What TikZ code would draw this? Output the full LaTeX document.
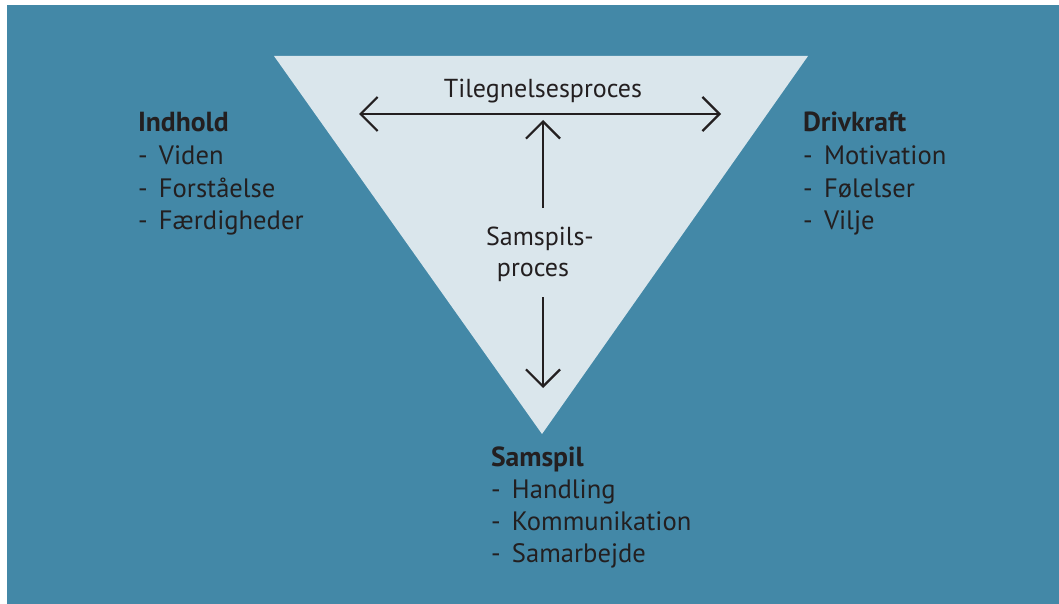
\documentclass[tikz,border=0pt]{standalone}
\usepackage{fontspec}
\setmainfont{PT Sans}
\usetikzlibrary{arrows.meta}
\definecolor{bgblue}{HTML}{4388A7}
\definecolor{trifill}{HTML}{DAE6EC}
\definecolor{ink}{HTML}{231F20}
\tikzset{
  txt/.style={inner sep=0pt, outer sep=0pt, text=ink, font=\fontsize{26.6}{32}\selectfont},
  head/.style={txt, font=\fontsize{27.6}{32}\selectfont\bfseries, anchor=base west},
  item/.style={txt, anchor=base west},
  proc/.style={txt, font=\fontsize{26}{32}\selectfont, anchor=base},
  flow/.style={draw=ink, line width=2.2pt, -{Straight Barb[length=17pt,width=34pt,line width=2.2pt]}},
  bothflow/.style={draw=ink, line width=2.2pt, {Straight Barb[length=17pt,width=34pt,line width=2.2pt]}-{Straight Barb[length=17pt,width=34pt,line width=2.2pt]}}
}
\newcommand{\bullitem}[1]{\makebox[21pt][l]{-}#1}
\begin{document}
\begin{tikzpicture}[x=1pt,y=-1pt]
  \useasboundingbox (0,0) rectangle (1059,604);
  \fill[white] (0,0) rectangle (1059,604);
  \fill[bgblue] (7,5) rectangle (1059,604);
  % inverted triangle
  \coordinate (tl) at (274,56);
  \coordinate (tr) at (808,56);
  \coordinate (apex) at (542,434);
  \fill[trifill] (tl) -- (tr) -- (apex) -- cycle;

  % process labels
  \node[proc] (tilegn) at (543,98) {Tilegnelsesproces};
  \node[proc] (samsp1) at (540,245) {Samspils-};
  \node[proc] (samsp2) at (533,276) {proces};

  % arrows
  \coordinate (hl) at (359,114);
  \coordinate (hr) at (721,114);
  \coordinate (uptip) at (543,120);
  \coordinate (uptail) at (543,208);
  \coordinate (dntail) at (543,297);
  \coordinate (dntip) at (543,388);
  \draw[bothflow] (hl) -- (hr);
  \draw[flow] (uptail) -- (uptip);
  \draw[flow] (dntail) -- (dntip);

  % Indhold
  \node[head] (indhold) at (138,132) {Indhold};
  \node[item] (viden) at (138,165) {\bullitem{Viden}};
  \node[item] (forst) at (138,197) {\bullitem{Forståelse}};
  \node[item] (faerd) at (138,229) {\bullitem{Færdigheder}};

  % Drivkraft
  \node[head] (drivkraft) at (803,132) {Drivkraft};
  \node[item] (motiv) at (803,165) {\bullitem{Motivation}};
  \node[item] (foel) at (803,197) {\bullitem{Følelser}};
  \node[item] (vilje) at (803,229) {\bullitem{Vilje}};

  % Samspil
  \node[head] (samspil) at (491,466) {Samspil};
  \node[item] (handl) at (491,498) {\bullitem{Handling}};
  \node[item] (komm) at (491,530) {\bullitem{Kommunikation}};
  \node[item] (samarb) at (491,562) {\bullitem{Samarbejde}};
\end{tikzpicture}
\end{document}
